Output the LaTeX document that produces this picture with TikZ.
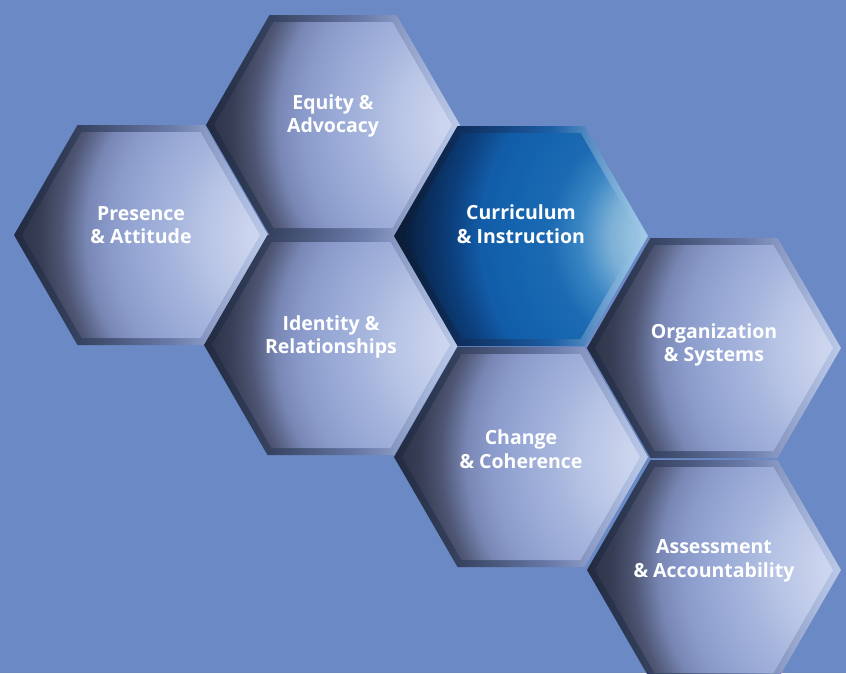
\documentclass[tikz,border=0pt]{standalone}
\usepackage{fontspec}
\setmainfont{Open Sans}
\definecolor{bg}{HTML}{6A89C5}
% light hexagon colours
\definecolor{lrA}{HTML}{212A40}
\definecolor{lrB}{HTML}{36425F}
\definecolor{lrC}{HTML}{6A7BAA}
\definecolor{lrD}{HTML}{AEBDE0}
\definecolor{lrE}{HTML}{BCC9E8}
\definecolor{lf0}{HTML}{D2DAF0}
\definecolor{lf1}{HTML}{CCD5EE}
\definecolor{lf2}{HTML}{B6C3E4}
\definecolor{lf3}{HTML}{A5B4DC}
\definecolor{lf4}{HTML}{98A9D6}
\definecolor{lf5}{HTML}{8A9BCB}
\definecolor{lf6}{HTML}{7886B4}
\definecolor{lf7}{HTML}{4E5674}
\definecolor{lf8}{HTML}{373D54}
\definecolor{lf9}{HTML}{2C3246}
% blue hexagon colours
\definecolor{brA}{HTML}{0B1B34}
\definecolor{brB}{HTML}{0E2E5C}
\definecolor{brC}{HTML}{1C5EA6}
\definecolor{brD}{HTML}{8EBCE0}
\definecolor{brE}{HTML}{A6CCE8}
\definecolor{bf0}{HTML}{A0C8E6}
\definecolor{bf1}{HTML}{94C0DE}
\definecolor{bf2}{HTML}{7CB0D6}
\definecolor{bf3}{HTML}{3A86C4}
\definecolor{bf4}{HTML}{1C6AB2}
\definecolor{bf5}{HTML}{1565B0}
\definecolor{bf6}{HTML}{125CA8}
\definecolor{bf7}{HTML}{0C3F7C}
\definecolor{bf8}{HTML}{0A2A55}
\definecolor{bf9}{HTML}{081C38}
\pgfdeclarehorizontalshading{lightrim}{100bp}{color(0bp)=(lrA); color(25bp)=(lrA); color(38bp)=(lrB); color(56bp)=(lrC); color(71bp)=(lrD); color(75bp)=(lrE); color(100bp)=(lrE)}
\pgfdeclarehorizontalshading{bluerim}{100bp}{color(0bp)=(brA); color(25bp)=(brA); color(38bp)=(brB); color(56bp)=(brC); color(71bp)=(brD); color(75bp)=(brE); color(100bp)=(brE)}
% radial face shadings: 1bp = 12px when used on a 600px square
\pgfdeclareradialshading{lightface}{\pgfpointorigin}{color(0bp)=(lf0); color(3.33bp)=(lf1); color(7.5bp)=(lf2); color(10bp)=(lf3); color(12.5bp)=(lf4); color(15bp)=(lf5); color(17.1bp)=(lf6); color(19.2bp)=(lf7); color(21bp)=(lf8); color(22.9bp)=(lf9); color(50bp)=(lf9)}
\pgfdeclareradialshading{blueface}{\pgfpointorigin}{color(0bp)=(bf0); color(3.33bp)=(bf1); color(5.1bp)=(bf2); color(7.6bp)=(bf3); color(10.1bp)=(bf4); color(12.5bp)=(bf5); color(15.9bp)=(bf6); color(18.4bp)=(bf7); color(20.9bp)=(bf8); color(22.5bp)=(bf9); color(50bp)=(bf9)}
\tikzset{
  hexlabel/.style={text=white, font=\fontsize{19.5}{23.5}\selectfont\bfseries, align=center, inner sep=0pt},
}
% #1 name, #2 cx, #3 cy, #4 kind, #5 label y, #6 text
\newcommand\hexcell[6]{%
  \shade[shading=#4rim] ({#2-127},#3) -- ({#2-63.5},{#3-110}) -- ({#2+63.5},{#3-110}) -- ({#2+127},#3) -- ({#2+63.5},{#3+110}) -- ({#2-63.5},{#3+110}) -- cycle;
  \begin{scope}
    \clip ({#2-119},#3) -- ({#2-59.5},{#3-103}) -- ({#2+59.5},{#3-103}) -- ({#2+119},#3) -- ({#2+59.5},{#3+103}) -- ({#2-59.5},{#3+103}) -- cycle;
    \shade[shading=#4face] ({#2-150},{#3-300}) rectangle ({#2+450},{#3+300});
  \end{scope}
  \node[hexlabel] (#1) at (#2,#5) {#6};
}
\begin{document}
\begin{tikzpicture}[x=1pt,y=-1pt]
\fill[bg] (0,0) rectangle (846,673);
\useasboundingbox (0,0) rectangle (846,673);
\hexcell{presence}{141}{235}{light}{225}{Presence\\\& Attitude}
\hexcell{equity}{333}{125}{light}{116}{Equity \&\\Advocacy}
\hexcell{identity}{331}{345}{light}{337}{Identity \&\\Relationships}
\hexcell{curriculum}{521}{236}{blue}{224}{Curriculum\\\& Instruction}
\hexcell{change}{521}{457}{light}{449}{Change\\\& Coherence}
\hexcell{organization}{714}{348}{light}{345}{Organization\\\& Systems}
\hexcell{assessment}{714}{570}{light}{561}{Assessment\\\& Accountability}
\end{tikzpicture}
\end{document}
